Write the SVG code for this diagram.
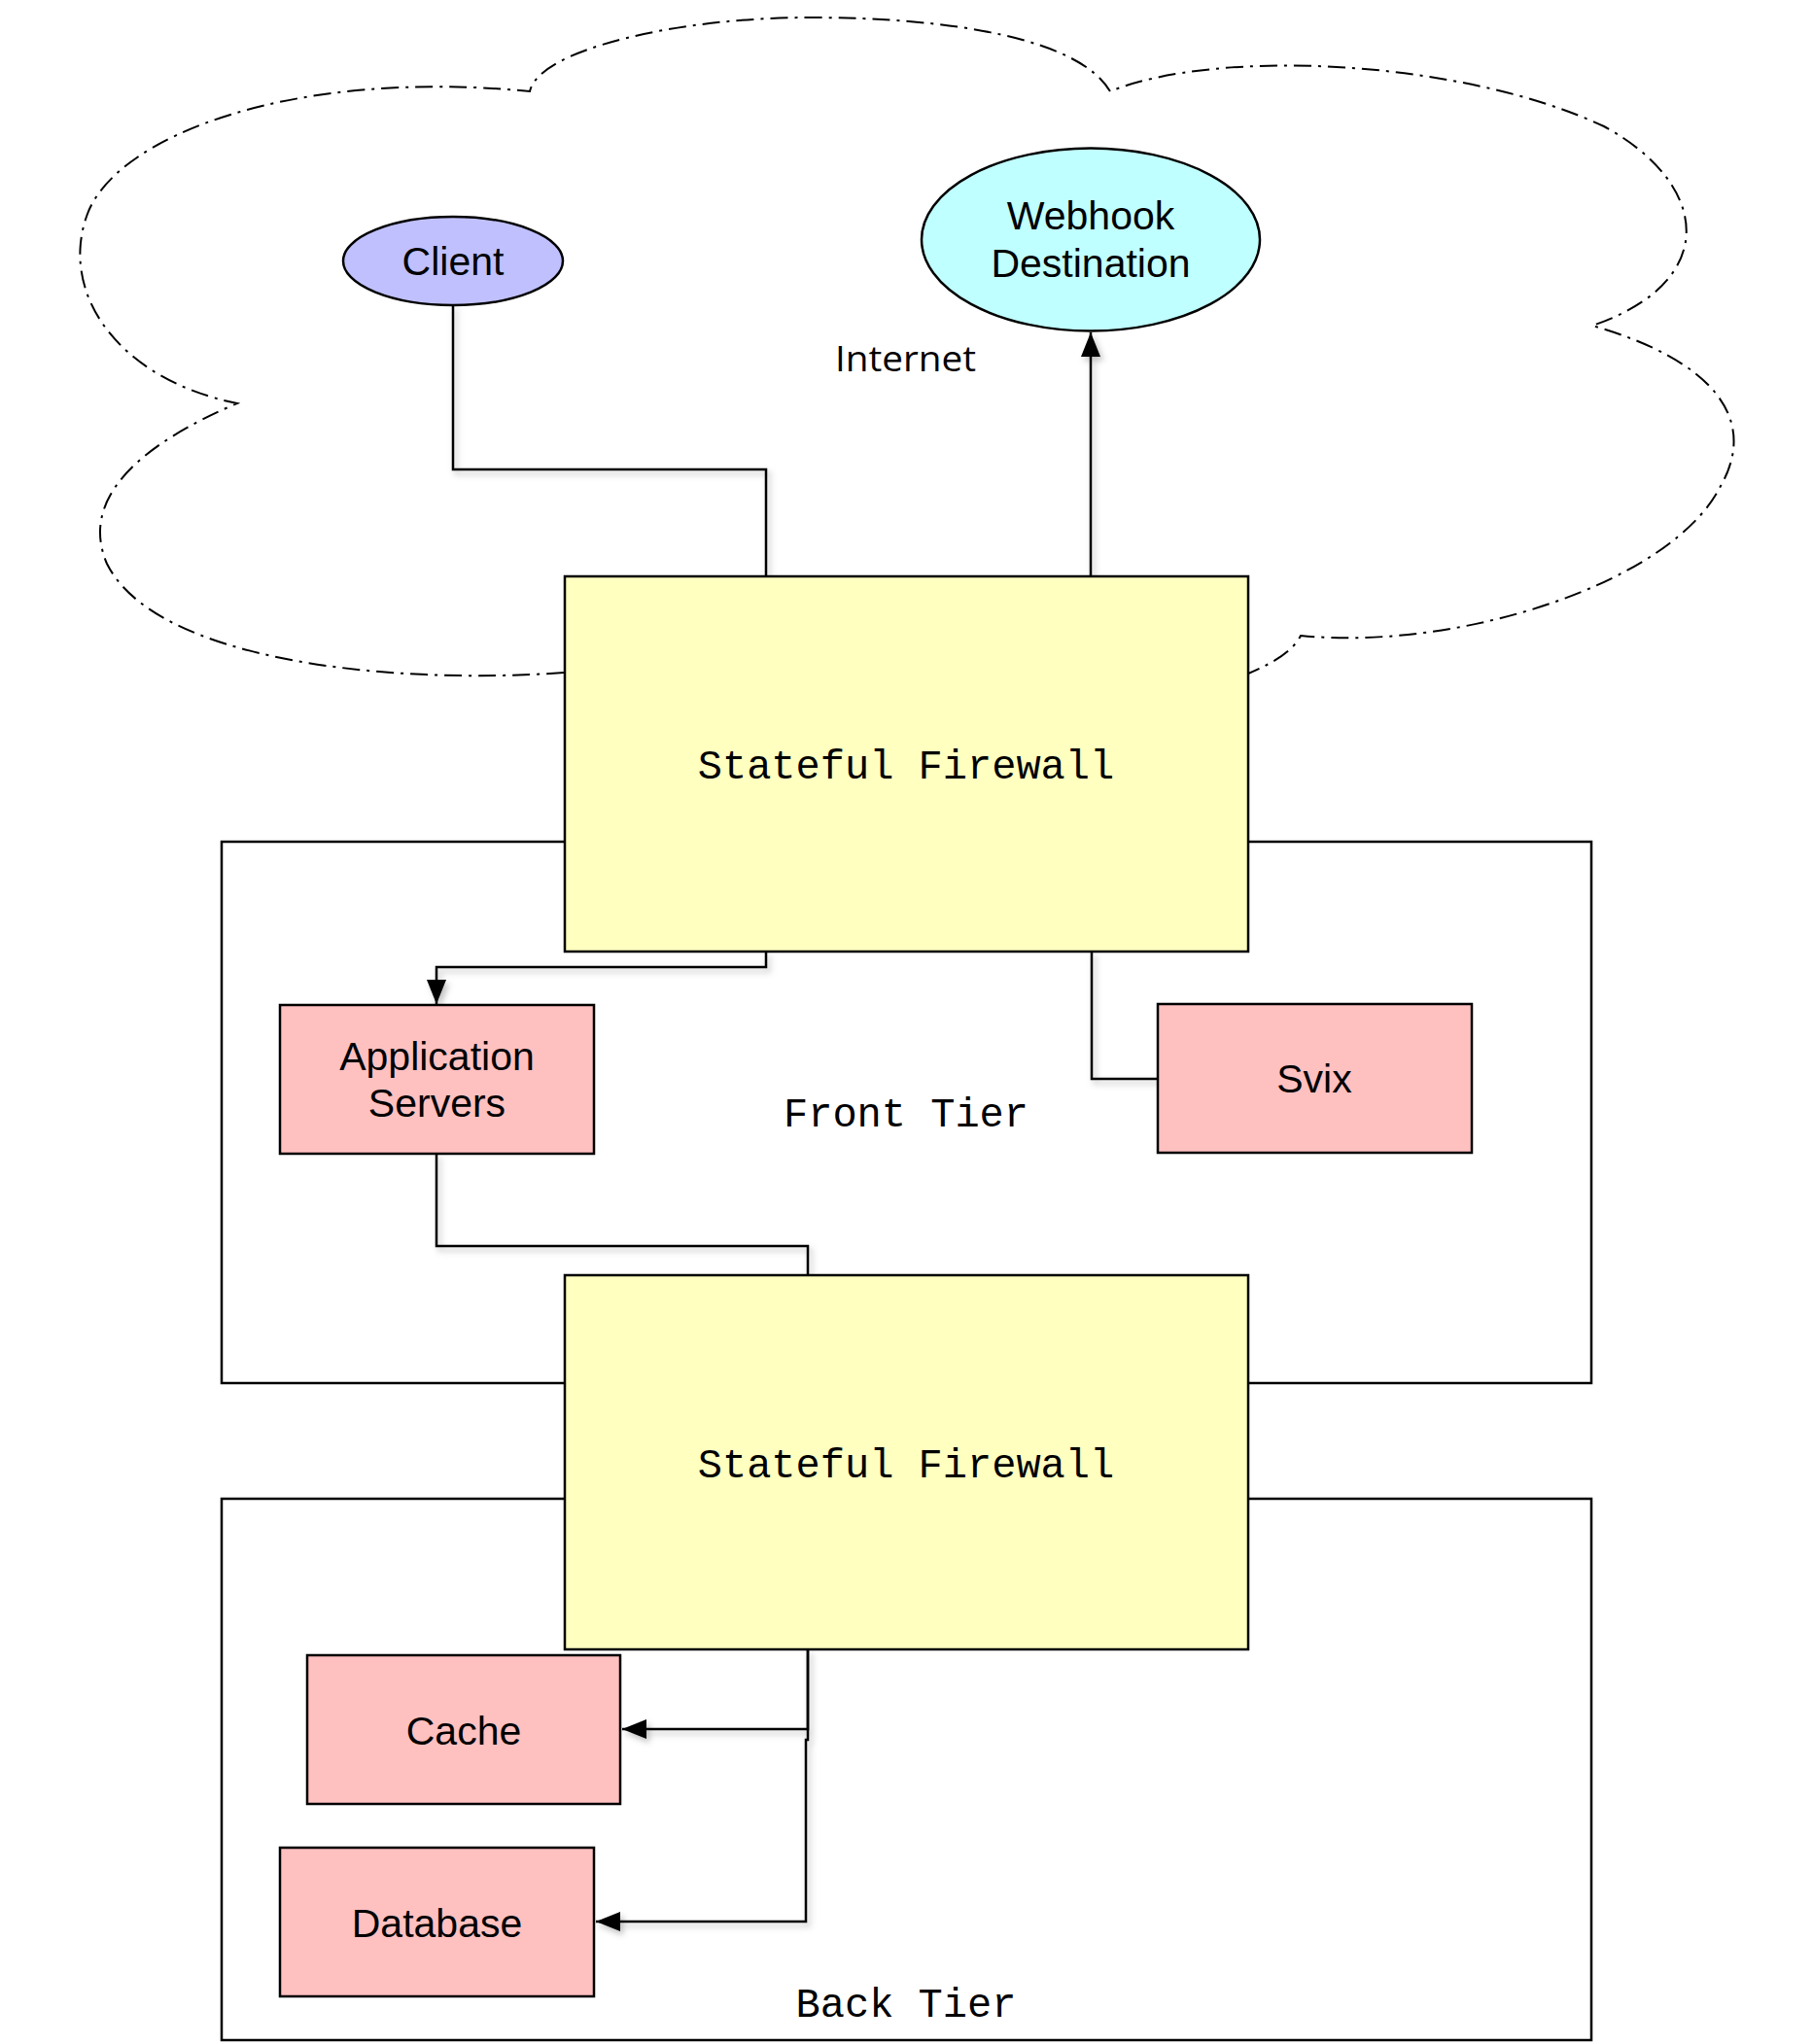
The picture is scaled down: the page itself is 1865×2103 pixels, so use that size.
<svg xmlns="http://www.w3.org/2000/svg" width="1865" height="2103" viewBox="0 0 1865 2103">
<style>
.box{stroke:#000;stroke-width:2.5}
.fw{fill:#FFFFC0}
.pink{fill:#FFC0C0}
.tier{fill:none;stroke:#000;stroke-width:2.5}
.lbl{font-family:"Liberation Sans",Arial,sans-serif;font-size:41px;fill:#000;text-anchor:middle}
.mono{font-family:"Liberation Mono","DejaVu Sans Mono",monospace;font-size:42px;fill:#000;text-anchor:middle}
.conn{fill:none;stroke:#000;stroke-width:2.5}
</style>
<defs>
<marker id="arrow" markerUnits="userSpaceOnUse" markerWidth="26" markerHeight="22" refX="25" refY="10" orient="auto">
<path d="M0,0 L25,10 L0,20 z" fill="#000"/>
</marker>
<filter id="shadow" x="-10%" y="-10%" width="130%" height="130%">
<feDropShadow dx="3" dy="4" stdDeviation="3" flood-color="#000" flood-opacity="0.25"/>
</filter>
</defs>
<rect width="1865" height="2103" fill="#fff"/>
<g id="internet">
<path d="M580,692 C400,705 160,680 110,580 C80,510 150,455 244,415 C120,390 60,300 90,220 C120,140 300,70 545,94 C555,50 700,18 832,18 C980,18 1110,40 1142,94 C1250,50 1500,60 1650,130 C1760,190 1770,290 1638,335 C1760,370 1810,430 1770,500 C1720,600 1500,670 1338,654 C1330,670 1310,682 1284,693" fill="none" stroke="#000" stroke-width="2" stroke-dasharray="18 7 3 7"/>
<text x="859" y="382" font-family="'Open Sans','Liberation Sans',sans-serif" font-size="36" textLength="145" lengthAdjust="spacingAndGlyphs">Internet</text>
</g>
<g id="front-tier">
<rect class="tier" x="228" y="866" width="1409" height="557"/>
<text class="mono" x="932" y="1159">Front Tier</text>
</g>
<g id="back-tier">
<rect class="tier" x="228" y="1542" width="1409" height="557"/>
<text class="mono" x="932" y="2075">Back Tier</text>
</g>
<g id="connectors" filter="url(#shadow)">
<path class="conn" d="M466,314 V483 H788 V593"/>
<path class="conn" d="M1122,593 V342" marker-end="url(#arrow)"/>
<path class="conn" d="M788,979 V995 H449 V1033" marker-end="url(#arrow)"/>
<path class="conn" d="M1123,979 V1110 H1191"/>
<path class="conn" d="M449,1187 V1282 H831 V1312"/>
<path class="conn" d="M831,1697 V1779 H640" marker-end="url(#arrow)"/>
<path class="conn" d="M831,1697 V1790 H829 V1977 H613" marker-end="url(#arrow)"/>
</g>
<g id="firewall-1">
<rect class="box fw" x="581" y="593" width="703" height="386"/>
<text class="mono" x="932" y="801">Stateful Firewall</text>
</g>
<g id="firewall-2">
<rect class="box fw" x="581" y="1312" width="703" height="385"/>
<text class="mono" x="932" y="1520">Stateful Firewall</text>
</g>
<g id="client">
<ellipse class="box" cx="466" cy="268.5" rx="113" ry="45.5" fill="#C0C0FF"/>
<text class="lbl" x="466" y="283">Client</text>
</g>
<g id="webhook-destination">
<ellipse class="box" cx="1122" cy="246.5" rx="174" ry="94" fill="#C0FFFF"/>
<text class="lbl" x="1122" y="236">Webhook</text>
<text class="lbl" x="1122" y="285">Destination</text>
</g>
<g id="application-servers">
<rect class="box pink" x="288" y="1034" width="323" height="153"/>
<text class="lbl" x="449.5" y="1101">Application</text>
<text class="lbl" x="449.5" y="1149">Servers</text>
</g>
<g id="svix">
<rect class="box pink" x="1191" y="1033" width="323" height="153"/>
<text class="lbl" x="1352" y="1124">Svix</text>
</g>
<g id="cache">
<rect class="box pink" x="316" y="1703" width="322" height="153"/>
<text class="lbl" x="477" y="1795">Cache</text>
</g>
<g id="database">
<rect class="box pink" x="288" y="1901" width="323" height="153"/>
<text class="lbl" x="449.5" y="1993">Database</text>
</g>
</svg>
